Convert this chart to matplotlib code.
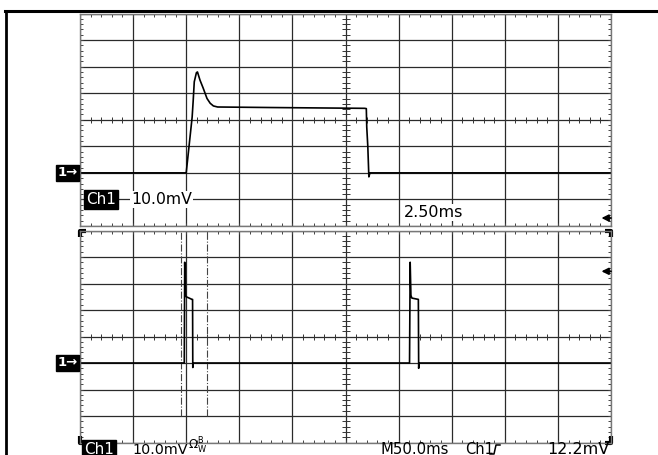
import numpy as np
import matplotlib
matplotlib.use("Agg")
import matplotlib.pyplot as plt
from matplotlib.ticker import MultipleLocator
from matplotlib.lines import Line2D

# Zoomed window (2.50 ms/div, 10.0 mV/div)
zoom_t = [0, 4.98, 5.0, 5.08, 5.2, 5.28, 5.33, 5.38, 5.48, 5.53, 5.65, 5.8, 5.98,
          6.13, 6.28, 6.48, 9.0, 13.4, 13.48, 13.5, 13.55, 13.6, 13.65, 25.0]
zoom_v = [-20, -20, -20, -14, -5, 1, 7.3, 14.3, 17.7, 18, 14.9, 11.9, 8,
          6.2, 5.2, 4.8, 4.6, 4.3, 4.2, -2.7, -10, -21.5, -20, -20]

# Main window (50.0 ms/div, 10.0 mV/div)
main_t = [0, 98.2, 98.6, 99.4, 100, 105.5, 106, 106.2, 106.6,
          310.3, 310.9, 311.6, 312.5, 318.6, 318.9, 319.3, 500]
main_v = [-10, -10, 28, 15.5, 15, 14, 14, -11.7, -10,
          -10, 28, 15.5, 14.5, 14, -12, -10, -10]

cursor_t = [95.0, 119.3]
zoom_level = -20      # "1" marker, upper
main_level = -10      # "1" marker, lower
zoom_trig = -37
main_trig = 24.6

W, H = 658, 455
fig = plt.figure(figsize=(W / 100, H / 100), dpi=100)
plt.rcParams['font.family'] = ['DejaVu Sans']


def px_axes(left, top, right, bottom):
    return fig.add_axes([left / W, 1 - bottom / H, (right - left) / W, (bottom - top) / H])


def graticule(ax, xdiv, ydiv):
    ax.set_xlim(0, 10 * xdiv)
    ax.set_ylim(-4 * ydiv, 4 * ydiv)
    ax.xaxis.set_major_locator(MultipleLocator(xdiv))
    ax.xaxis.set_minor_locator(MultipleLocator(xdiv / 5))
    ax.yaxis.set_major_locator(MultipleLocator(ydiv))
    ax.yaxis.set_minor_locator(MultipleLocator(ydiv / 5))
    ax.grid(True, which='major', color='#2a2a2a', lw=0.9)
    ax.set_axisbelow(True)
    ax.tick_params(which='both', direction='in', top=True, right=True,
                   labelbottom=False, labelleft=False, color='#444', width=0.7)
    ax.tick_params(which='major', length=2.5)
    ax.tick_params(which='minor', length=2.5)
    xs = np.arange(0, 10 * xdiv + 1e-9, xdiv / 5)
    ys = np.arange(-4 * ydiv, 4 * ydiv + 1e-9, ydiv / 5)
    ax.plot(xs, np.zeros_like(xs), ls='none', marker='|', ms=4.5, mew=0.7, color='#333')
    ax.plot(np.full_like(ys, 5 * xdiv), ys, ls='none', marker='_', ms=5.5, mew=0.7, color='#333')
    for s in ax.spines.values():
        s.set_color('#777')
        s.set_linewidth(1.0)


def marker_box(ax, level):
    tr = ax.get_yaxis_transform()
    ax.text(-0.004, level, "1\u2192", transform=tr, ha='right', va='center',
            fontsize=9.5, color='white', fontweight='bold',
            bbox=dict(boxstyle='square,pad=0.1', fc='black', ec='black'))


def trig_arrow(ax, level):
    tr = ax.get_yaxis_transform()
    ax.annotate('', xy=(0.982, level), xytext=(1.0, level), xycoords=tr, textcoords=tr,
                arrowprops=dict(arrowstyle='-|>', color='black', lw=1.3,
                                mutation_scale=10, shrinkA=0, shrinkB=0))


# upper panel
ax1 = px_axes(80, 13.5, 611, 226)
graticule(ax1, 2.5, 10)
ax1.plot(zoom_t, zoom_v, color='black', lw=1.2)
marker_box(ax1, zoom_level)
trig_arrow(ax1, zoom_trig)
ax1.text(6 / 531, -30, "Ch1", transform=ax1.get_yaxis_transform(), ha='left', va='center',
         fontsize=11, color='white',
         bbox=dict(boxstyle='square,pad=0.12', fc='black', ec='black'))
ax1.text(51 / 531, -30, "10.0mV", transform=ax1.get_yaxis_transform(), ha='left', va='center',
         fontsize=11.3, color='black',
         bbox=dict(boxstyle='square,pad=0.05', fc='white', ec='none'))
ax1.text(324 / 531, -34.9, "2.50ms", transform=ax1.get_yaxis_transform(), ha='left', va='center',
         fontsize=11.5, color='black',
         bbox=dict(boxstyle='square,pad=0.05', fc='white', ec='none'))

# lower panel
ax2 = px_axes(80, 230.5, 611, 442.5)
graticule(ax2, 50, 10)
ax2.vlines(cursor_t, -30, 40, colors='#444', linestyles='dashdot', lw=0.8)
ax2.plot(main_t, main_v, color='black', lw=1.2)
marker_box(ax2, main_level)
trig_arrow(ax2, main_trig)
for cx, cy, dx, dy in [(0, 0, 1, 1), (0, 1, 1, -1), (1, 0, -1, 1), (1, 1, -1, -1)]:
    ax2.plot([cx + dx * 0.012, cx, cx], [cy, cy, cy + dy * 0.03], color='black', lw=3,
             transform=ax2.transAxes, clip_on=False, solid_capstyle='butt')

# outer frame
fig.add_artist(Line2D([5.5 / W, 5.5 / W], [0, 1 - 11 / H], lw=2, color='black'))
fig.add_artist(Line2D([5 / W, 1], [1 - 11 / H, 1 - 11 / H], lw=2.2, color='black'))

# status line
yb = 1.5 / H
fig.text(84 / W, yb, "Ch1", fontsize=11, color='white', va='baseline',
         bbox=dict(boxstyle='square,pad=0.12', fc='black', ec='black'))
fig.text(132 / W, yb, "10.0mV", fontsize=10.3, color='black', va='baseline')
fig.text(188 / W, yb + 4 / H, r"$\Omega^{\mathrm{B}}_{\mathrm{W}}$", fontsize=8.5,
         color='black', va='baseline')
fig.text(381 / W, yb, "M50.0ms", fontsize=10.7, color='black', va='baseline')
fig.text(465 / W, yb, "Ch1", fontsize=10.5, color='black', va='baseline')
# rising-edge trigger slope glyph
sx = [490, 494, 496, 500]
sy = [454, 454, 445, 445]
fig.add_artist(Line2D([x / W for x in sx], [1 - y / H for y in sy], lw=1.1, color='black'))
fig.text(547 / W, yb, "12.2mV", fontsize=11.5, color='black', va='baseline')

fig.savefig("out.png", dpi=100)
